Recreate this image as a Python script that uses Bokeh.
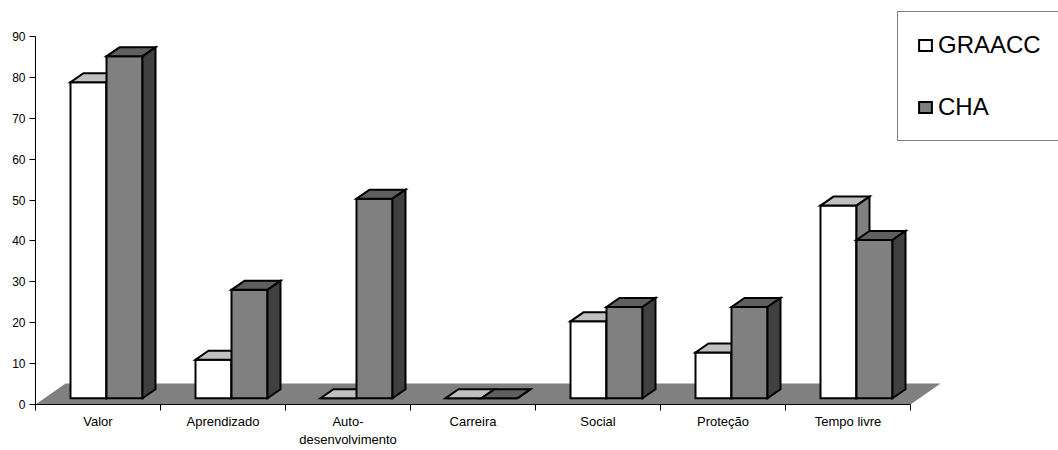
from bokeh.plotting import figure
from bokeh.models import Range1d, FixedTicker, Legend, LegendItem
from bokeh.embed import file_html
from bokeh.resources import INLINE

# Data: percentage of answers per category
categories = ["Valor", "Aprendizado", "Auto-\ndesenvolvimento", "Carreira",
              "Social", "Proteção", "Tempo livre"]
graacc = [77.3, 9.4, 0, 0, 18.8, 11.2, 47.1]
cha = [83.6, 26.5, 48.8, 0, 22.3, 22.3, 38.7]
y_ticks = [0, 10, 20, 30, 40, 50, 60, 70, 80, 90]

FONT = "Liberation Sans"

# Pixel scale of the plotting frame (one category = 125 px, 90 units = 368 px)
PX_X = 125.0
PX_Y = 368.0 / 90.0
FRAME_W = 1058 - 35
FRAME_H = 404

# Pseudo-3D geometry (converted to data units)
bar_off = 35 / PX_X
bar_w = 36 / PX_X
depth_x = 13 / PX_X
depth_y = 9 / PX_Y
base_y = 6.3 / PX_Y
floor_dx = 30 / PX_X
floor_dy = 21 / PX_Y

p = figure(width=1058, height=450, output_backend="svg", toolbar_location=None,
           x_range=Range1d(0, FRAME_W / PX_X), y_range=Range1d(0, FRAME_H / PX_Y),
           min_border_left=35, min_border_right=0, min_border_top=0,
           min_border_bottom=46)
p.outline_line_color = None
p.grid.visible = False
p.background_fill_color = "white"

# Floor of the 3D box
n = len(categories)
p.patch(x=[0, n, n + floor_dx, floor_dx], y=[0, 0, floor_dy, floor_dy],
        fill_color="#808080", line_color=None)


def draw_series(values, slot, front, top, side):
    lefts = [i + bar_off + slot * bar_w for i in range(len(values))]
    rights = [l + bar_w for l in lefts]
    bottoms = [base_y] * len(values)
    tops = [base_y + v for v in values]
    style = dict(line_color="black", line_width=2, line_join="miter")
    fr = p.quad(left=lefts, right=rights, bottom=bottoms, top=tops,
                fill_color=front, **style)
    p.patches(
        xs=[[l, r, r + depth_x, l + depth_x] for l, r in zip(lefts, rights)],
        ys=[[t, t, t + depth_y, t + depth_y] for t in tops],
        fill_color=top, **style)
    p.patches(
        xs=[[r, r + depth_x, r + depth_x, r] for r in rights],
        ys=[[b, b + depth_y, t + depth_y, t] for b, t in zip(bottoms, tops)],
        fill_color=side, **style)
    return fr


r_graacc = draw_series(graacc, 0, "#FFFFFF", "#C0C0C0", "#808080")
r_cha = draw_series(cha, 1, "#808080", "#5F5F5F", "#404040")

# Axes
xa = p.xaxis[0]
centers = [i + 0.5 for i in range(n)]
xa.ticker = FixedTicker(ticks=centers, minor_ticks=list(range(n + 1)))
xa.major_label_overrides = {c: lab for c, lab in zip(centers, categories)}
xa.bounds = (0, n)
xa.major_tick_out = 0
xa.major_tick_in = 0
xa.minor_tick_out = 6
xa.minor_tick_in = 0
xa.minor_tick_line_color = "black"
xa.axis_line_color = "black"
xa.major_label_text_font = FONT
xa.major_label_text_font_size = "13px"
xa.major_label_text_color = "black"
xa.major_label_standoff = 3

ya = p.yaxis[0]
ya.ticker = FixedTicker(ticks=y_ticks, minor_ticks=[])
ya.bounds = (0, 90)
ya.major_tick_out = 6
ya.major_tick_in = 0
ya.major_tick_line_color = "black"
ya.axis_line_color = "black"
ya.major_label_text_font = FONT
ya.major_label_text_font_size = "12px"
ya.major_label_text_color = "black"
ya.major_label_standoff = 4

legend = Legend(items=[LegendItem(label="GRAACC", renderers=[r_graacc]),
                       LegendItem(label="CHA", renderers=[r_cha])],
                location=(862, 263), padding=19, spacing=34, margin=0,
                glyph_width=16, glyph_height=14, label_standoff=5,
                label_width=150,
                label_text_font=FONT, label_text_font_size="24px",
                label_text_color="black",
                border_line_color="black", border_line_width=1,
                background_fill_color="white", background_fill_alpha=1)
p.add_layout(legend)

open("out.html", "w").write(file_html(p, INLINE))
